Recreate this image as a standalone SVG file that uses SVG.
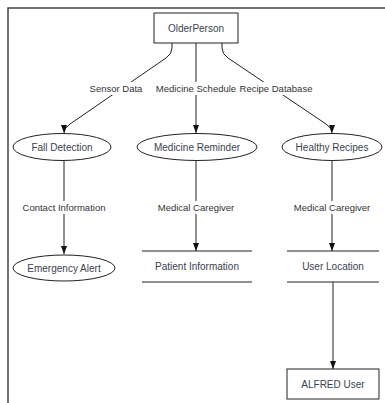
<svg xmlns="http://www.w3.org/2000/svg" width="385" height="403" viewBox="0 0 385 403">
<defs>
<marker id="arr" viewBox="0 0 8 8" refX="8" refY="4" markerWidth="8" markerHeight="8" markerUnits="userSpaceOnUse" orient="auto">
<path d="M0,1 L8,4 L0,7 Z" fill="#111"/>
</marker>
</defs>
<style>
.n{fill:#fff;stroke:#222;stroke-width:1}
.t{font-family:"Liberation Sans",Arial,sans-serif;font-size:10px;fill:#3a4250;text-anchor:middle}
.l{font-family:"Liberation Sans",Arial,sans-serif;font-size:9.5px;fill:#333;text-anchor:middle}
.e{fill:none;stroke:#222;stroke-width:1;marker-end:url(#arr)}
.lb{fill:#fff}
</style>
<rect width="385" height="403" fill="#fff"/>
<g id="frame">
<path d="M8,403 V8 H385" fill="none" stroke="#444" stroke-width="1.5"/>
</g>
<g id="connectors">
<path class="e" d="M172,43 V48 Q172,54 166,58 L70,124 Q64,128 64,133"/>
<path class="e" d="M196,43 V133"/>
<path class="e" d="M222,43 V48 Q222,54 228,58 L326,124 Q332,128 332,133"/>
<path class="e" d="M64,161 V254"/>
<path class="e" d="M196,161 V251"/>
<path class="e" d="M332,161 V251"/>
<path class="e" d="M333,282 V369"/>
<rect class="lb" x="89" y="82" width="56" height="13"/>
<rect class="lb" x="153" y="82" width="162" height="13"/>
<rect class="lb" x="20" y="201" width="90" height="13"/>
<rect class="lb" x="154" y="201" width="84" height="13"/>
<rect class="lb" x="291" y="201" width="84" height="13"/>
<text class="l" x="116" y="92">Sensor Data</text>
<text class="l" x="196" y="92">Medicine Schedule</text>
<text class="l" x="276" y="92">Recipe Database</text>
<text class="l" x="64" y="211">Contact Information</text>
<text class="l" x="196" y="211">Medical Caregiver</text>
<text class="l" x="332" y="211">Medical Caregiver</text>
</g>
<g id="OlderPerson">
<rect class="n" x="154" y="13" width="84" height="30"/>
<text class="t" x="196" y="32">OlderPerson</text>
</g>
<g id="FallDetection">
<ellipse class="n" cx="62" cy="147" rx="49" ry="13.5"/>
<text class="t" x="62" y="151">Fall Detection</text>
</g>
<g id="MedicineReminder">
<ellipse class="n" cx="197" cy="147" rx="60" ry="13.5"/>
<text class="t" x="197" y="151">Medicine Reminder</text>
</g>
<g id="HealthyRecipes">
<ellipse class="n" cx="332" cy="147" rx="50" ry="13.5"/>
<text class="t" x="332" y="151">Healthy Recipes</text>
</g>
<g id="EmergencyAlert">
<ellipse class="n" cx="64" cy="268" rx="51" ry="13"/>
<text class="t" x="64" y="272">Emergency Alert</text>
</g>
<g id="PatientInformation">
<path d="M142,251 H252 M142,282 H252" stroke="#222" stroke-width="1"/>
<text class="t" x="197" y="270">Patient Information</text>
</g>
<g id="UserLocation">
<path d="M287,251 H379 M287,282 H379" stroke="#222" stroke-width="1"/>
<text class="t" x="333" y="270">User Location</text>
</g>
<g id="ALFREDUser">
<rect class="n" x="287" y="369" width="92" height="30"/>
<text class="t" x="333" y="388">ALFRED User</text>
</g>
</svg>
